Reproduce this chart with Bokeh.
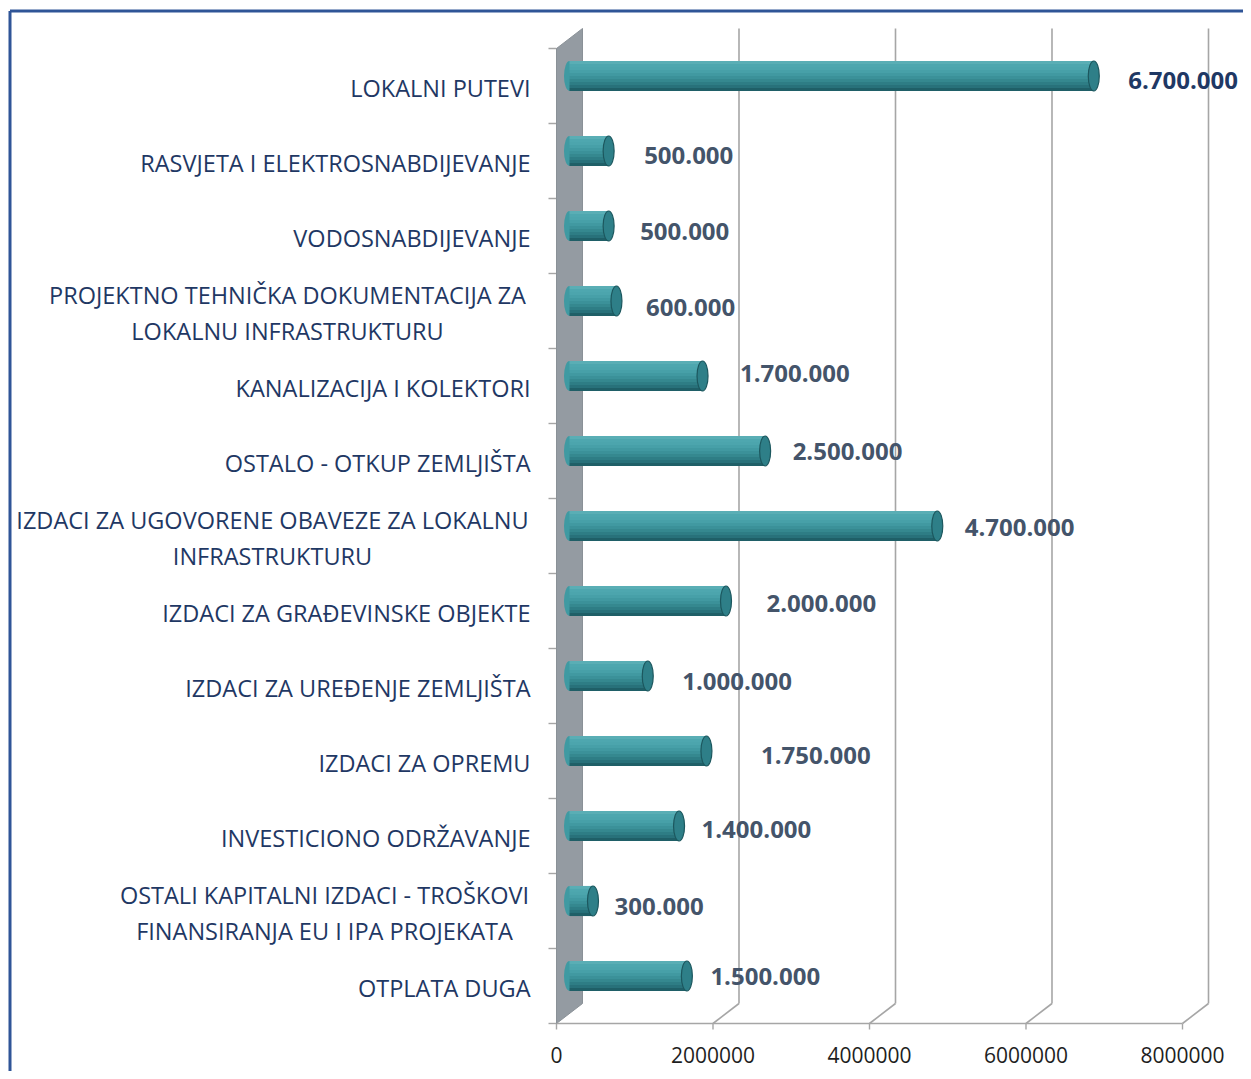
from bokeh.plotting import figure
from bokeh.models import Range1d
from bokeh.embed import file_html
from bokeh.resources import INLINE
from bokeh.core.properties import value

# ---------------- data ----------------
categories = [
    "LOKALNI PUTEVI",
    "RASVJETA I ELEKTROSNABDIJEVANJE",
    "VODOSNABDIJEVANJE",
    "PROJEKTNO TEHNIČKA DOKUMENTACIJA ZA\nLOKALNU INFRASTRUKTURU",
    "KANALIZACIJA I KOLEKTORI",
    "OSTALO - OTKUP ZEMLJIŠTA",
    "IZDACI ZA UGOVORENE OBAVEZE ZA LOKALNU\nINFRASTRUKTURU",
    "IZDACI ZA GRAĐEVINSKE OBJEKTE",
    "IZDACI ZA UREĐENJE ZEMLJIŠTA",
    "IZDACI ZA OPREMU",
    "INVESTICIONO ODRŽAVANJE",
    "OSTALI KAPITALNI IZDACI - TROŠKOVI\nFINANSIRANJA EU I IPA PROJEKATA",
    "OTPLATA DUGA",
]
amounts = [6700000, 500000, 500000, 600000, 1700000, 2500000, 4700000,
           2000000, 1000000, 1750000, 1400000, 300000, 1500000]
x_ticks = [0, 2000000, 4000000, 6000000, 8000000]

# ---------------- layout / style ----------------
W, H = 1243, 1071
PX_PER_UNIT = 78.25e-6      # screen px per unit of value
ORIGIN_X = 556              # figure px of value 0 (front plane)
ROW_PX = 75
ORIGIN_Y = 1023             # figure px (from top) of the front floor
DEPTH_X_PX, DEPTH_Y_PX = 26, 20
BAR_PX = 30
CAP_W = 11

label_gap_px = [29, 30, 26, 24, 32, 22, 22, 35, 29, 49, 17, 16, 18]
label_dy_px = [4, 4, 5, 6, -3, 0, 1, 2, 5, 4, 3, 5, 0]
wrap_center_px = {3: -269, 6: -284, 11: -232}

def px_x(d):
    return d / PX_PER_UNIT

def px_y(d):
    return d / ROW_PX

N = len(categories)
DX, DY = px_x(DEPTH_X_PX), px_y(DEPTH_Y_PX)

p = figure(width=W, height=H,
           x_range=Range1d(px_x(-ORIGIN_X), px_x(W - ORIGIN_X)),
           y_range=Range1d(px_y(-(H - ORIGIN_Y)), px_y(ORIGIN_Y)),
           x_axis_location=None, y_axis_location=None,
           output_backend="svg", toolbar_location=None, min_border=0)
p.grid.visible = False
p.outline_line_color = None
p.background_fill_color = "white"
p.border_fill_color = "white"

grid_col = "#A6A6A6"

# side wall
p.patch([0, 0, DX, DX], [0, N, N + DY, DY], fill_color="#949BA2",
        line_color="#8A9197", line_width=1)

# back gridlines and floor diagonals
gx = [t + DX for t in x_ticks[1:]]
p.segment(x0=gx, y0=[DY] * len(gx), x1=gx, y1=[N + DY] * len(gx),
          line_color=grid_col, line_width=1.6)
p.segment(x0=x_ticks[1:], y0=[0] * len(gx), x1=gx, y1=[DY] * len(gx),
          line_color=grid_col, line_width=1.6)

# front axis line + ticks
p.segment(x0=[0], y0=[0], x1=[x_ticks[-1]], y1=[0], line_color=grid_col, line_width=1.6)
p.segment(x0=x_ticks, y0=[0] * len(x_ticks), x1=x_ticks, y1=[px_y(-6)] * len(x_ticks),
          line_color=grid_col, line_width=1.4)
p.text(x=x_ticks, y=[0] * len(x_ticks), text=[str(t) for t in x_ticks],
       y_offset=31, text_align="center", text_baseline="middle",
       text_font=value("Open Sans"), text_font_size="21px", text_color="#1E1E1E")

# left ticks at category boundaries
p.segment(x0=[px_x(-8)] * (N + 1), y0=list(range(N + 1)), x1=[0] * (N + 1),
          y1=list(range(N + 1)), line_color=grid_col, line_width=1.4)
p.segment(x0=[0], y0=[0], x1=[0], y1=[N], line_color="#8A9197", line_width=1)

# cylinders
rows = [N - 1 - i + 0.5 for i in range(N)]
yc = [r + DY / 2 for r in rows]
x0 = [DX / 2] * N
x1 = [a + DX / 2 for a in amounts]
p.ellipse(x=x0, y=yc, width=CAP_W, height=BAR_PX, width_units="screen",
          height_units="screen", fill_color="#3F9AA2", line_color=None)
strip_cols = ["#5AAEB5", "#4EA7AF", "#4CA5AD", "#47A0A8", "#4199A1",
              "#3B9199", "#35888F", "#2E7D85", "#28717A", "#1F5F67"]
ns = len(strip_cols)
bh = px_y(BAR_PX)
for k, c in enumerate(strip_cols):
    off = bh / 2 - (k + 0.5) * bh / ns
    p.hbar(y=[v + off for v in yc], left=x0, right=x1, height=bh / ns * 1.04,
           fill_color=c, line_color=None)
p.ellipse(x=x1, y=yc, width=CAP_W, height=BAR_PX, width_units="screen",
          height_units="screen", fill_color="#2E7F88", line_color="#1C575E", line_width=1.2)

# value labels
vmax = max(amounts)
val_text = [f"{a:,}".replace(",", ".") for a in amounts]
val_col = ["#1F3864" if a == vmax else "#44546A" for a in amounts]
for i in range(N):
    p.text(x=[x1[i]], y=[yc[i]], text=[val_text[i]],
           x_offset=CAP_W / 2 + label_gap_px[i], y_offset=label_dy_px[i],
           text_align="left", text_baseline="middle",
           text_font=value("Open Sans"), text_font_style="bold",
           text_font_size="24px", text_color=val_col[i])

# category labels
for i, c in enumerate(categories):
    if "\n" in c:
        p.text(x=[0], y=[rows[i]], text=[c], x_offset=wrap_center_px[i], y_offset=2,
               text_align="center", text_baseline="middle", text_line_height=1.1,
               text_font=value("Open Sans"), text_font_size="23.5px", text_color="#1F3864")
    else:
        p.text(x=[0], y=[rows[i]], text=[c], x_offset=-26, y_offset=2,
               text_align="right", text_baseline="middle",
               text_font=value("Open Sans"), text_font_size="23.5px", text_color="#1F3864")

# frame border (blue)
bx = px_x(9.5 - ORIGIN_X)
by = px_y(ORIGIN_Y - 10.5)
p.line([bx, bx], [p.y_range.start, by], line_color="#2F5597", line_width=3)
p.line([bx, p.x_range.end], [by, by], line_color="#2F5597", line_width=3)

open("out.html", "w").write(file_html(p, INLINE))
